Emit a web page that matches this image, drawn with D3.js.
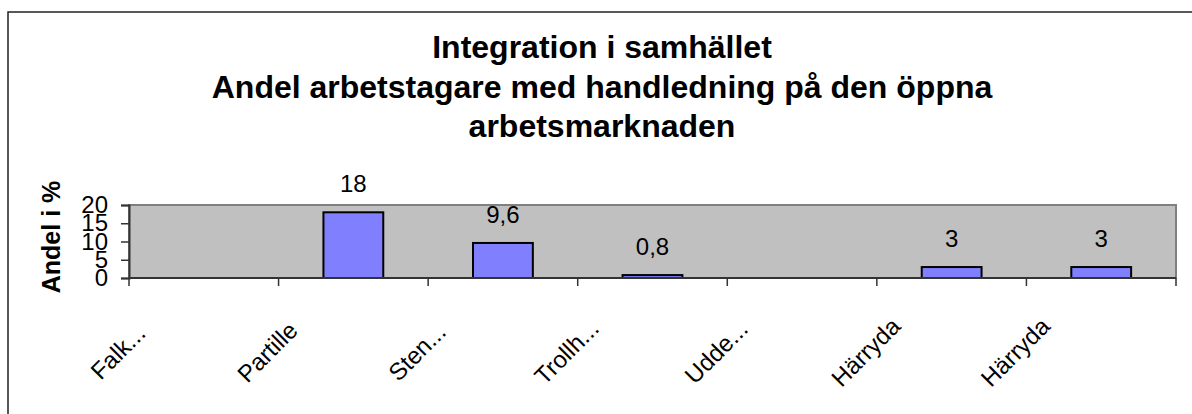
<!DOCTYPE html>
<html>
<head>
    <meta charset="utf-8">
    <script src="https://cdnjs.cloudflare.com/ajax/libs/d3/7.8.5/d3.min.js"></script>
    <style>
        body { margin: 0; background: #fff; }
        svg text { font-family: "Liberation Sans", Arial, sans-serif; fill: #000; }
    </style>
</head>
<body>
    <div id="chart"></div>
    <script>
        // Chart data
        const titleLines = [
            "Integration i samhället",
            "Andel arbetstagare med handledning på den öppna",
            "arbetsmarknaden"
        ];
        const categories = ["Falk...", "Partille", "Sten...", "Trollh...", "Udde...", "Härryda", "Härryda"];
        const values = [null, 18, 9.6, 0.8, null, 3, 3];
        const yTicks = [0, 5, 10, 15, 20];
        const yTitle = "Andel i %";

        const width = 1192;
        const height = 414;
        const plot = { left: 129, right: 1176, top: 205, bottom: 278 };

        const svg = d3.select("#chart")
            .append("svg")
            .attr("width", width)
            .attr("height", height);

        // outer chart border (right and bottom edges fall outside the window)
        svg.append("rect")
            .attr("x", 8).attr("y", 12)
            .attr("width", 1400).attr("height", 600)
            .attr("fill", "#fff")
            .attr("stroke", "#222")
            .attr("stroke-width", 1.5);

        const x = d3.scaleBand()
            .domain(d3.range(categories.length))
            .range([plot.left, plot.right])
            .padding(0);

        const y = d3.scaleLinear()
            .domain([0, 20])
            .range([plot.bottom, plot.top]);

        const sv = d3.formatLocale({ decimal: ",", thousands: " ", grouping: [3], currency: ["", " kr"] });
        const fmt = v => sv.format("~g")(v);

        // title
        svg.append("text")
            .attr("x", 602)
            .attr("text-anchor", "middle")
            .style("font-size", "32px")
            .style("font-weight", "bold")
            .selectAll("tspan")
            .data(titleLines)
            .join("tspan")
            .attr("x", 602)
            .attr("y", (d, i) => 58 + i * 39.5)
            .text(d => d);

        // plot area background
        svg.append("rect")
            .attr("x", plot.left).attr("y", plot.top)
            .attr("width", plot.right - plot.left)
            .attr("height", plot.bottom - plot.top)
            .attr("fill", "#c0c0c0")
            .attr("stroke", "#808080")
            .attr("stroke-width", 2);

        // bars
        const bw = x.bandwidth() * 0.4;
        const barData = values.map((v, i) => ({ i, v })).filter(d => d.v != null);

        svg.append("g")
            .selectAll("rect")
            .data(barData)
            .join("rect")
            .attr("x", d => x(d.i) + (x.bandwidth() - bw) / 2)
            .attr("y", d => y(d.v))
            .attr("width", bw)
            .attr("height", d => y(0) - y(d.v))
            .attr("fill", "#8080ff")
            .attr("stroke", "#000")
            .attr("stroke-width", 2);

        // value labels
        svg.append("g")
            .selectAll("text")
            .data(barData)
            .join("text")
            .attr("x", d => x(d.i) + x.bandwidth() / 2)
            .attr("y", d => y(d.v) - 20)
            .attr("text-anchor", "middle")
            .style("font-size", "24px")
            .text(d => fmt(d.v));

        // y axis
        const yAxis = svg.append("g")
            .attr("transform", `translate(${plot.left},0)`)
            .call(d3.axisLeft(y).tickValues(yTicks).tickSize(8).tickPadding(13));
        yAxis.select(".domain").attr("stroke", "#333").attr("stroke-width", 2);
        yAxis.selectAll(".tick line").attr("stroke", "#333").attr("stroke-width", 1.5);
        yAxis.selectAll(".tick text")
            .style("font-size", "24px")
            .style("font-family", "'Liberation Sans', Arial, sans-serif")
            .attr("fill", "#000");

        // x axis: ticks between categories
        const bounds = d3.range(categories.length + 1).map(i => plot.left + i * x.step());
        svg.append("line")
            .attr("x1", plot.left).attr("x2", plot.right)
            .attr("y1", plot.bottom).attr("y2", plot.bottom)
            .attr("stroke", "#333").attr("stroke-width", 2);
        svg.append("g")
            .selectAll("line")
            .data(bounds)
            .join("line")
            .attr("x1", d => d).attr("x2", d => d)
            .attr("y1", plot.bottom).attr("y2", plot.bottom + 8)
            .attr("stroke", "#333").attr("stroke-width", 1.5);

        // rotated category labels
        svg.append("g")
            .selectAll("text")
            .data(categories)
            .join("text")
            .attr("transform", (d, i) => `translate(${x(i) + x.bandwidth() / 2 - 80},${358}) rotate(-45)`)
            .attr("text-anchor", "middle")
            .style("font-size", "24px")
            .text(d => d);

        // y axis title
        svg.append("text")
            .attr("transform", "translate(60,237) rotate(-90)")
            .attr("text-anchor", "middle")
            .style("font-size", "25px")
            .style("font-weight", "bold")
            .text(yTitle);
    </script>
</body>
</html>
